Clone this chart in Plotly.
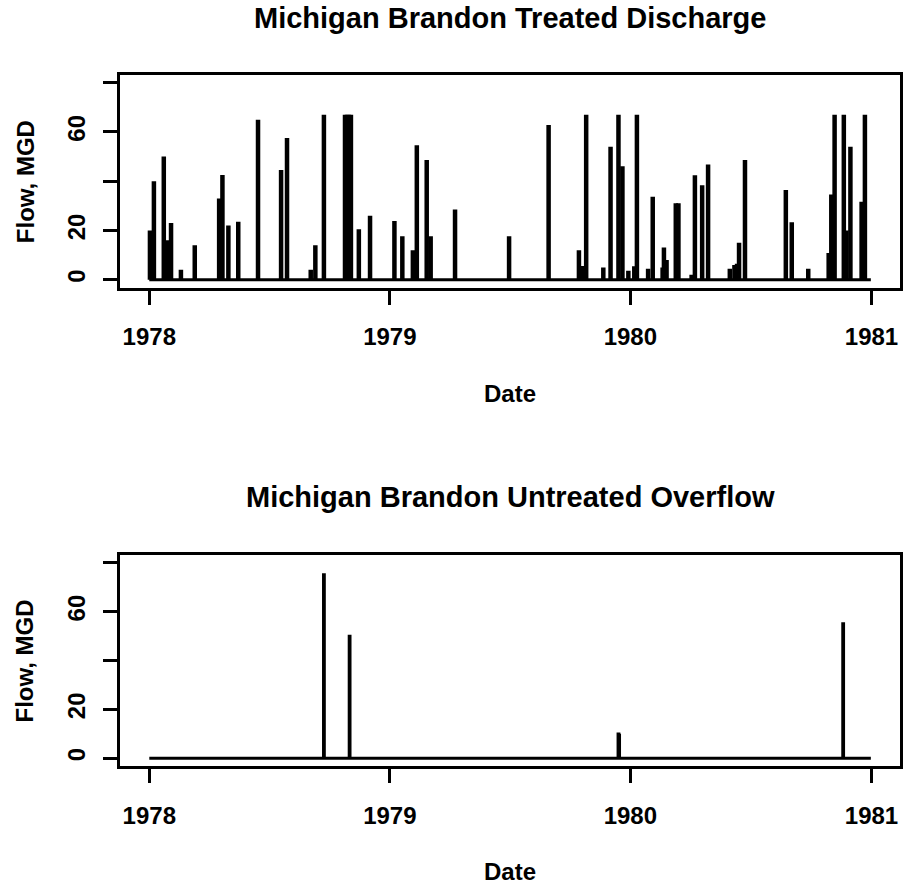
import plotly.graph_objects as go

# ---- data: treated discharge spikes (date, flow MGD) ----
treated_dates = [
    "1978-01-02", "1978-01-08", "1978-01-23", "1978-01-29", "1978-02-03", "1978-02-18",
    "1978-03-11", "1978-04-17", "1978-04-22", "1978-05-01", "1978-05-16", "1978-06-15",
    "1978-07-20", "1978-07-29", "1978-09-03", "1978-09-10", "1978-09-23", "1978-10-25",
    "1978-10-28", "1978-10-31", "1978-11-03", "1978-11-15", "1978-12-02",
    "1979-01-08", "1979-01-20", "1979-02-05", "1979-02-11", "1979-02-26", "1979-03-04",
    "1979-04-10", "1979-07-01", "1979-08-30", "1979-10-15", "1979-10-21", "1979-10-26",
    "1979-11-21", "1979-12-02", "1979-12-14", "1979-12-20", "1979-12-29",
    "1980-01-07", "1980-01-11", "1980-01-28", "1980-02-04", "1980-02-19", "1980-02-21",
    "1980-02-25", "1980-03-10", "1980-03-14", "1980-04-03", "1980-04-08", "1980-04-19",
    "1980-04-28", "1980-05-31", "1980-06-07", "1980-06-11", "1980-06-14", "1980-06-23",
    "1980-08-24", "1980-09-02", "1980-09-27", "1980-10-28", "1980-11-01", "1980-11-06",
    "1980-11-20", "1980-11-24", "1980-11-30", "1980-12-17", "1980-12-22",
]
treated_flow = [
    20, 40, 50, 16, 23, 4,
    14, 33, 42.5, 22, 23.5, 65,
    44.5, 57.5, 4, 14, 67, 67,
    67, 67, 67, 20.5, 26,
    23.8, 17.6, 12, 54.6, 48.6, 17.6,
    28.5, 17.6, 62.8, 12, 5.6, 67,
    5, 54, 67, 46.1, 3.6,
    5.5, 67, 4.5, 33.7, 5, 13.1,
    8, 31, 31, 2, 42.4, 38.4,
    46.8, 4.5, 6, 6.5, 15, 48.6,
    36.4, 23.3, 4.5, 10.8, 34.6, 67,
    67, 20, 54, 31.7, 67,
]

# ---- data: untreated overflow spikes ----
untreated_dates = ["1978-09-23", "1978-11-01", "1979-12-14", "1979-12-15", "1980-11-19"]
untreated_flow = [75.7, 50.6, 10.6, 10, 55.7]

period = ["1978-01-01", "1980-12-31"]
x_ticks = ["1978-01-01", "1979-01-01", "1980-01-01", "1981-01-01"]
x_ticktext = ["1978", "1979", "1980", "1981"]
y_ticks = [0, 20, 40, 60, 80]
y_ticktext = ["0", "20", "", "60", ""]

titles = ["Michigan Brandon Treated Discharge", "Michigan Brandon Untreated Overflow"]


def spikes(dates, vals):
    xs, ys = [], []
    for d, v in zip(dates, vals):
        xs += [d, d, None]
        ys += [0, v, None]
    return xs, ys


FONT = "Liberation Sans, Arial, sans-serif"
W, H = 903, 888

fig = go.Figure()

panels = [
    (treated_dates, treated_flow, 4.5, "x", "y"),
    (untreated_dates, untreated_flow, 3.8, "x2", "y2"),
]
for dates, vals, lw, xa, ya in panels:
    fig.add_trace(go.Scatter(x=period, y=[0, 0], mode="lines",
                             line=dict(color="black", width=3),
                             xaxis=xa, yaxis=ya, showlegend=False, hoverinfo="skip"))
    sx, sy = spikes(dates, vals)
    fig.add_trace(go.Scatter(x=sx, y=sy, mode="lines",
                             line=dict(color="black", width=lw),
                             xaxis=xa, yaxis=ya, showlegend=False))

# pixel geometry of the two boxes
x_dom = [120.7 / W, 901.7 / W]
top_box = (74.8, 287.6)
bot_box = (555.0, 766.1)


def ydom(box):
    return [1 - box[1] / H, 1 - box[0] / H]


xrange_ = ["1977-11-18 04:48", "1981-02-12 19:12"]
common_x = dict(type="date", range=xrange_, tickmode="array", tickvals=x_ticks,
                ticktext=x_ticktext, showline=True, mirror=True, linecolor="black",
                linewidth=3, ticks="outside", ticklen=14, tickwidth=3,
                tickcolor="black", showgrid=False, zeroline=False,
                tickfont=dict(family=FONT, size=24, color="black", weight="bold"),
                ticklabelstandoff=12)
common_y = dict(range=[-3.2, 83.2], tickmode="array", tickvals=y_ticks,
                ticktext=y_ticktext, showline=True, mirror=True, linecolor="black",
                linewidth=3, ticks="outside", ticklen=14, tickwidth=3,
                tickcolor="black", showgrid=False, zeroline=False, tickangle=-90,
                tickfont=dict(family=FONT, size=24, color="black", weight="bold"),
                ticklabelstandoff=9)

fig.update_layout(
    width=W, height=H, autosize=False,
    margin=dict(l=0, r=0, t=0, b=0),
    paper_bgcolor="white", plot_bgcolor="white",
    xaxis=dict(domain=x_dom, anchor="y", **common_x),
    yaxis=dict(domain=ydom(top_box), anchor="x", **common_y),
    xaxis2=dict(domain=x_dom, anchor="y2", **common_x),
    yaxis2=dict(domain=ydom(bot_box), anchor="x2", **common_y),
)

cx = (120.7 + 901.7) / 2 / W
ann = []
for i, (box, title) in enumerate(zip([top_box, bot_box], titles)):
    off = 0 if i == 0 else 478.6
    ann.append(dict(text=title, x=cx, y=1 - (18 + off) / H, xref="paper", yref="paper",
                    showarrow=False, xanchor="center", yanchor="middle",
                    font=dict(family=FONT, size=29, color="black", weight="bold")))
    ann.append(dict(text="Date", x=cx, y=1 - (393 + off) / H, xref="paper", yref="paper",
                    showarrow=False, xanchor="center", yanchor="middle",
                    font=dict(family=FONT, size=24, color="black", weight="bold")))
    ann.append(dict(text="Flow, MGD", x=25 / W, y=1 - ((box[0] + box[1]) / 2) / H,
                    xref="paper", yref="paper", textangle=-90,
                    showarrow=False, xanchor="center", yanchor="middle",
                    font=dict(family=FONT, size=24, color="black", weight="bold")))
fig.update_layout(annotations=ann)

fig.write_html("out.html")
